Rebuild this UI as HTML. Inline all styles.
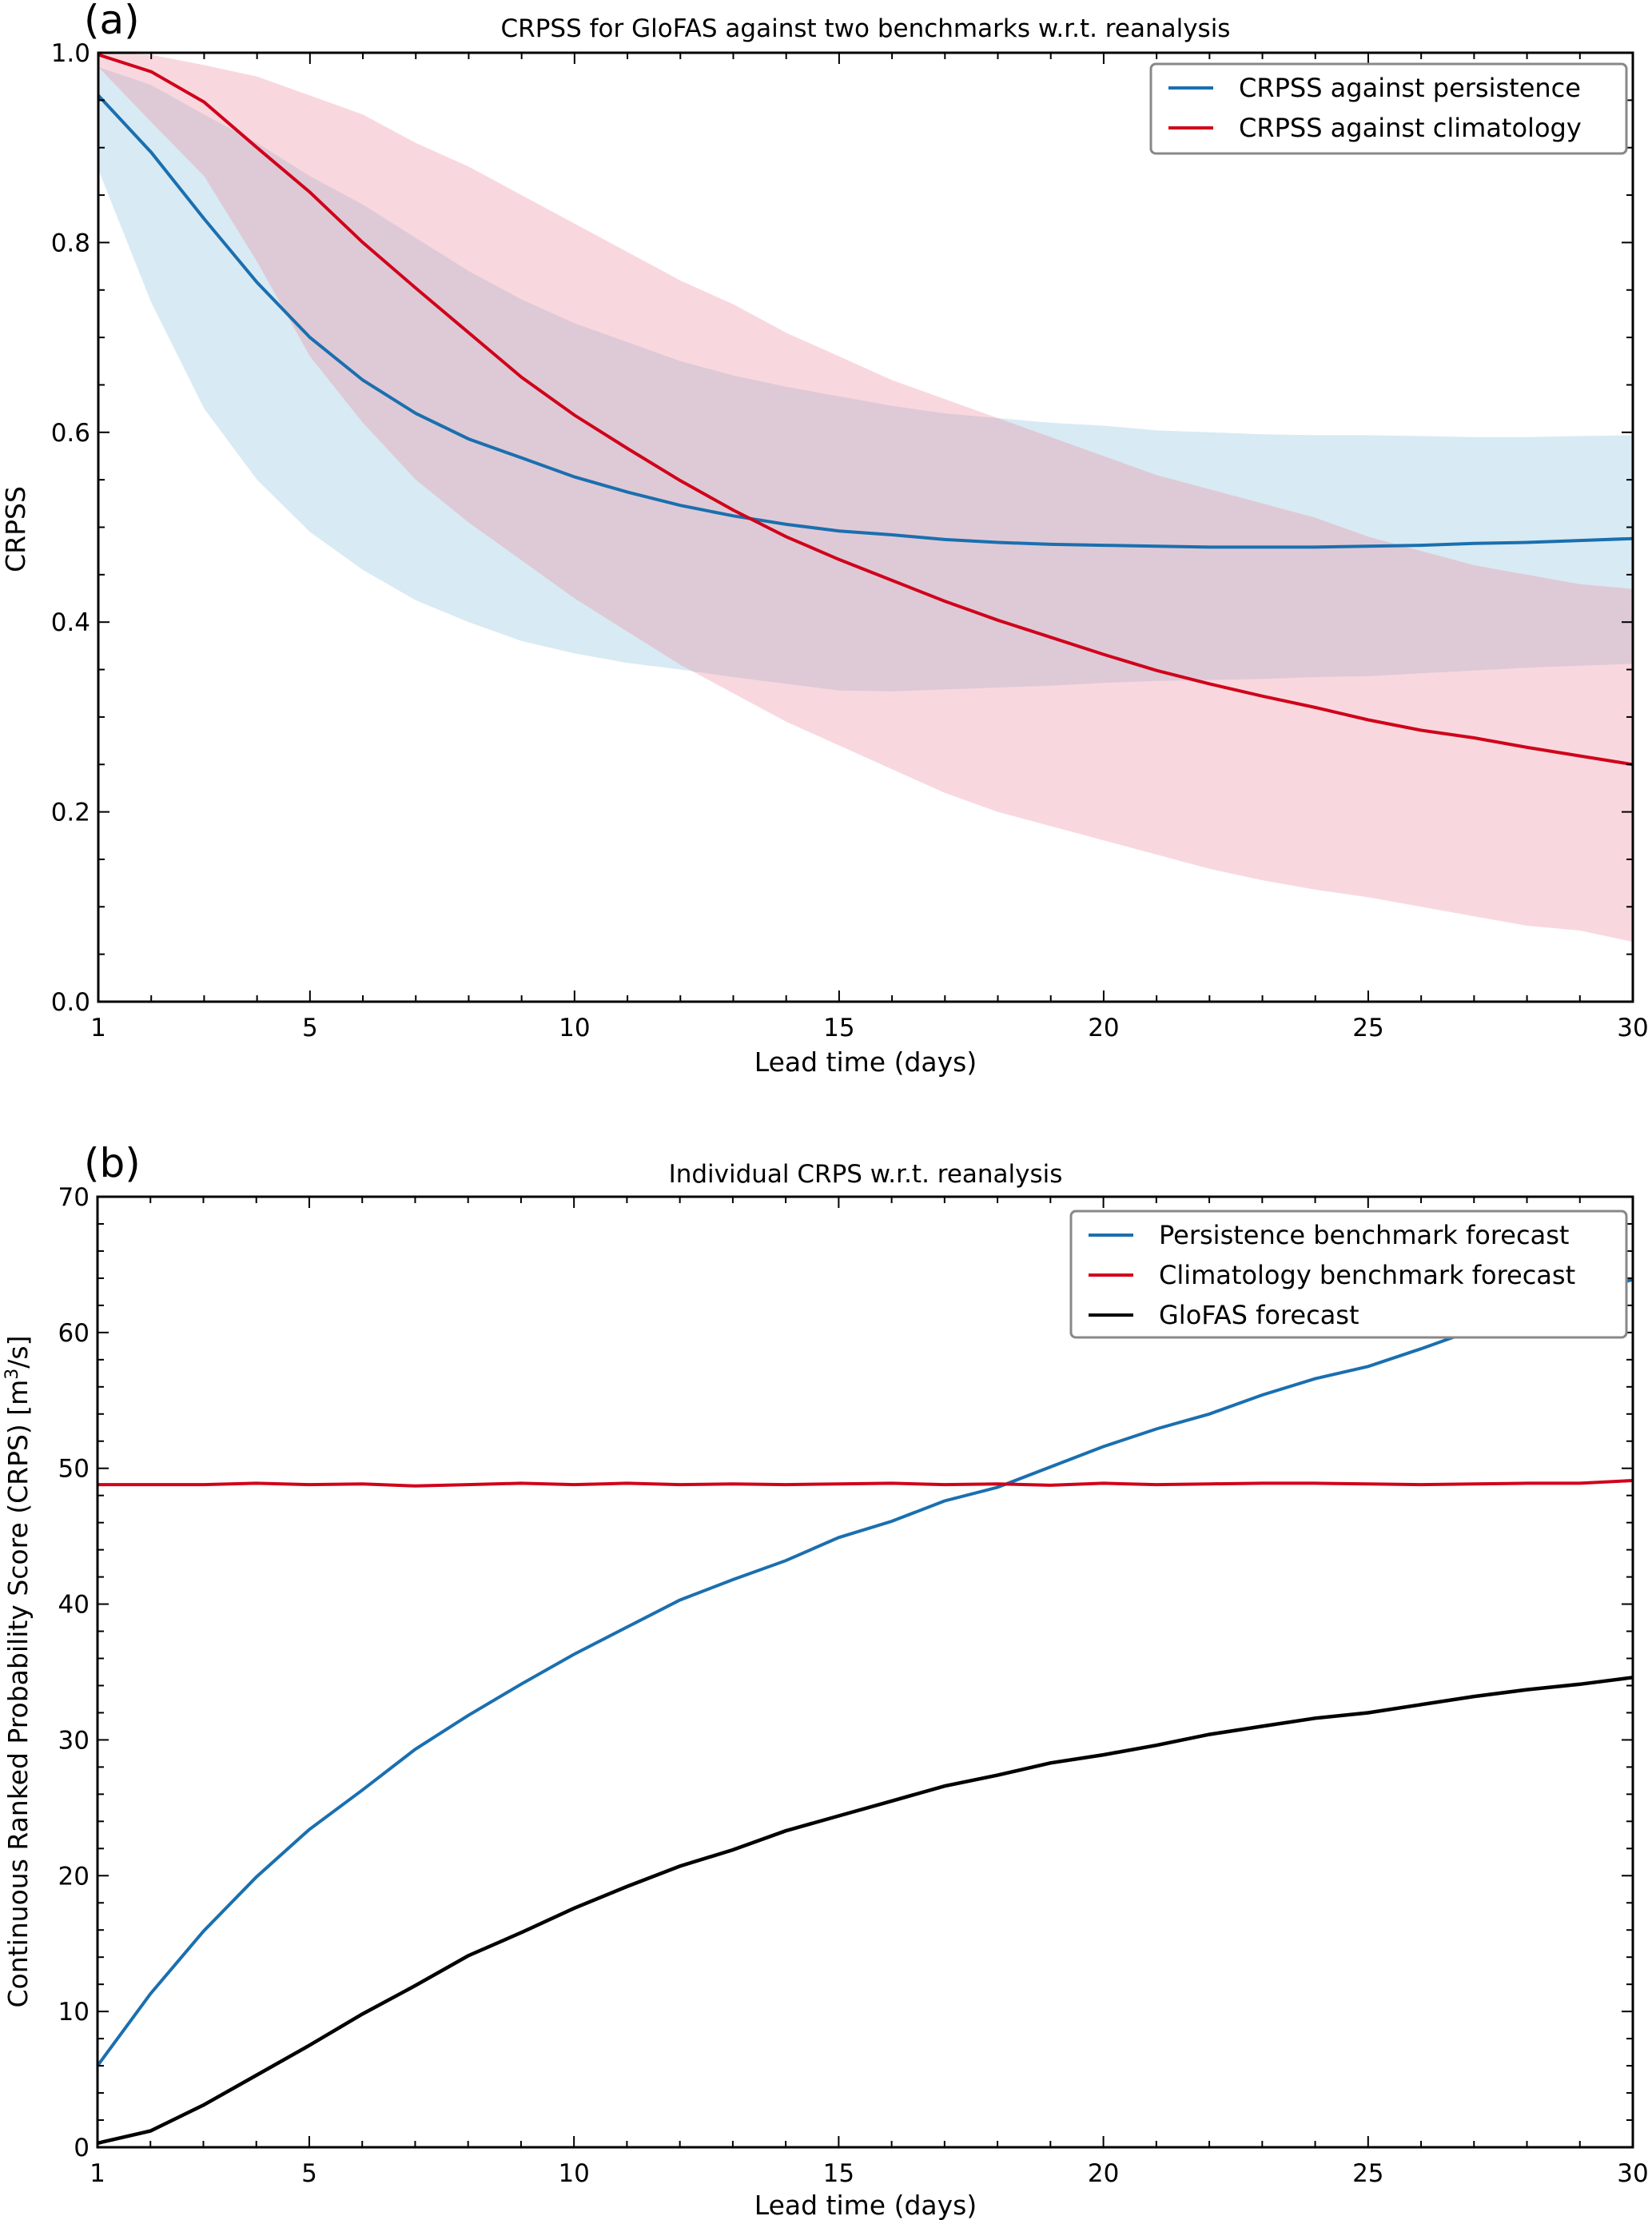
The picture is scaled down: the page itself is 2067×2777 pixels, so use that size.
<!DOCTYPE html>
<html><head><meta charset="utf-8"><style>
html,body{margin:0;padding:0;background:#fff}
svg{display:block;font-family:"DejaVu Sans","Liberation Sans",sans-serif}
</style></head><body>
<svg id="fig" width="2067" height="2777" viewBox="0 0 2067 2777" xmlns="http://www.w3.org/2000/svg"></svg>
<script>
const days=[1,2,3,4,5,6,7,8,9,10,11,12,13,14,15,16,17,18,19,20,21,22,23,24,25,26,27,28,29,30];
const crpssPersist=[0.955,0.895,0.825,0.758,0.700,0.655,0.620,0.593,0.573,0.553,0.537,0.523,0.512,0.503,0.496,0.492,0.487,0.484,0.482,0.481,0.480,0.479,0.479,0.479,0.480,0.481,0.483,0.484,0.486,0.488];
const crpssClim=[0.998,0.98,0.948,0.90,0.853,0.80,0.752,0.705,0.658,0.618,0.583,0.549,0.518,0.490,0.466,0.444,0.422,0.402,0.384,0.366,0.349,0.335,0.322,0.310,0.297,0.286,0.278,0.268,0.259,0.250];
const persistUpper=[0.985,0.966,0.935,0.905,0.87,0.84,0.805,0.77,0.74,0.715,0.695,0.675,0.66,0.648,0.638,0.628,0.62,0.615,0.61,0.607,0.602,0.6,0.598,0.597,0.597,0.596,0.595,0.595,0.596,0.597];
const persistLower=[0.877,0.737,0.625,0.55,0.495,0.455,0.423,0.4,0.38,0.367,0.357,0.35,0.342,0.335,0.328,0.327,0.329,0.331,0.333,0.336,0.338,0.339,0.34,0.342,0.343,0.346,0.349,0.352,0.354,0.356];
const climUpper=[1.0,0.998,0.987,0.975,0.955,0.935,0.905,0.88,0.85,0.82,0.79,0.76,0.735,0.705,0.68,0.655,0.635,0.615,0.595,0.575,0.555,0.54,0.525,0.51,0.49,0.475,0.46,0.45,0.44,0.435];
const climLower=[0.985,0.927,0.87,0.78,0.68,0.61,0.55,0.505,0.465,0.425,0.39,0.355,0.325,0.295,0.27,0.245,0.22,0.2,0.185,0.17,0.155,0.14,0.128,0.118,0.11,0.1,0.09,0.08,0.075,0.063];
const crpsPersist=[6.0,11.3,15.9,19.9,23.4,26.3,29.3,31.8,34.1,36.3,38.3,40.3,41.8,43.2,44.9,46.1,47.6,48.6,50.1,51.6,52.9,54.0,55.4,56.6,57.5,58.8,60.2,61.5,62.8,63.9];
const crpsClim=[48.8,48.8,48.8,48.9,48.8,48.85,48.7,48.8,48.9,48.8,48.9,48.8,48.85,48.8,48.85,48.9,48.8,48.85,48.75,48.9,48.8,48.85,48.9,48.9,48.85,48.8,48.85,48.9,48.9,49.1];
const crpsGlofas=[0.3,1.2,3.1,5.3,7.5,9.8,11.9,14.1,15.8,17.6,19.2,20.7,21.9,23.3,24.4,25.5,26.6,27.4,28.3,28.9,29.6,30.4,31.0,31.6,32.0,32.6,33.2,33.7,34.1,34.6];
const xTicks=[1,5,10,15,20,25,30];
const yTicksA=[0.0,0.2,0.4,0.6,0.8,1.0];
const yTicksB=[0,10,20,30,40,50,60,70];

const NS="http://www.w3.org/2000/svg";
const svg=document.getElementById('fig');
function el(tag,attrs,parent,text){const e=document.createElementNS(NS,tag);for(const k in attrs)e.setAttribute(k,attrs[k]);if(text!==undefined)e.textContent=text;(parent||svg).appendChild(e);return e;}
const BLUE="#1a6faf",RED="#d0021b";

function makeAxes(box,ymin,ymax,yTicks,yMinorStep,yFmt,name){
  const g=el('g',{});
  
  
  const X=d=>box.l+(d-1)/29*(box.r-box.l);
  const Y=v=>box.b-(v-ymin)/(ymax-ymin)*(box.b-box.t);
  return {g,X,Y,box,finish(){
    const f=el('rect',{x:box.l,y:box.t,width:box.r-box.l,height:box.b-box.t,fill:'none',stroke:'#000','stroke-width':3},g);
    
    for(let d=1;d<=30;d++){const maj=xTicks.includes(d);const L=maj?14:8;
      el('line',{x1:X(d),x2:X(d),y1:box.b,y2:box.b-L,stroke:'#000','stroke-width':2},g);
      el('line',{x1:X(d),x2:X(d),y1:box.t,y2:box.t+L,stroke:'#000','stroke-width':2},g);}
    xTicks.forEach(d=>{const t=el('text',{x:X(d),y:box.b+43,'font-size':31,'text-anchor':'middle'},g,String(d));
      });
    for(let v=ymin;v<=ymax+1e-9;v+=yMinorStep){const maj=yTicks.some(t=>Math.abs(t-v)<1e-6);const L=maj?14:8;
      el('line',{x1:box.l,x2:box.l+L,y1:Y(v),y2:Y(v),stroke:'#000','stroke-width':2},g);
      el('line',{x1:box.r,x2:box.r-L,y1:Y(v),y2:Y(v),stroke:'#000','stroke-width':2},g);}
    yTicks.forEach(v=>{const t=el('text',{x:box.l-10,y:Y(v)+11,'font-size':31,'text-anchor':'end'},g,yFmt(v));
      });
  }};
}
function pathOf(A,ys){return ys.map((v,i)=>(i?'L':'M')+A.X(days[i]).toFixed(1)+','+A.Y(v).toFixed(1)).join('');}
function bandOf(A,up,lo){let d=pathOf(A,up);for(let i=lo.length-1;i>=0;i--)d+='L'+A.X(days[i]).toFixed(1)+','+A.Y(lo[i]).toFixed(1);return d+'Z';}

// Panel (a)
const A=makeAxes({l:123,r:2043,t:66,b:1253},0,1,yTicksA,0.05,v=>v.toFixed(1),'panel-a');
let p=el('path',{d:bandOf(A,persistUpper,persistLower),fill:'#9ecae1','fill-opacity':0.4},A.g);

p=el('path',{d:bandOf(A,climUpper,climLower),fill:'#eb8a9c','fill-opacity':0.33},A.g);

p=el('path',{d:pathOf(A,crpssPersist),fill:'none',stroke:BLUE,'stroke-width':4},A.g);

p=el('path',{d:pathOf(A,crpssClim),fill:'none',stroke:RED,'stroke-width':4},A.g);

A.finish();

// Panel (b)
const B=makeAxes({l:122,r:2043,t:1497,b:2686},0,70,yTicksB,2,v=>String(v),'panel-b');
p=el('path',{d:pathOf(B,crpsPersist),fill:'none',stroke:BLUE,'stroke-width':4},B.g);

p=el('path',{d:pathOf(B,crpsClim),fill:'none',stroke:RED,'stroke-width':4},B.g);

p=el('path',{d:pathOf(B,crpsGlofas),fill:'none',stroke:'#000','stroke-width':4.5},B.g);

B.finish();

function legend(x,y,w,h,items,name){
  const g=el('g',{});
  
  
  el('rect',{x,y,width:w,height:h,rx:6,fill:'#fff',stroke:'#888','stroke-width':3},g);
  items.forEach((it,i)=>{const cy=y+30+i*50;
    el('line',{x1:x+22,x2:x+78,y1:cy,y2:cy,stroke:it[1],'stroke-width':4},g);
    const t=el('text',{x:x+110,y:cy+11,'font-size':32},g,it[0]);
    });
}
legend(1440,80,595,112,[['CRPSS against persistence',BLUE],['CRPSS against climatology',RED]],'legend-a');
legend(1340,1515,695,158,[['Persistence benchmark forecast',BLUE],['Climatology benchmark forecast',RED],['GloFAS forecast','#000']],'legend-b');

function txt(attrs,s,name){const t=el('text',attrs,svg,s);return t;}
txt({x:1083,y:46,'font-size':31,'text-anchor':'middle'},'CRPSS for GloFAS against two benchmarks w.r.t. reanalysis','title-a');
txt({x:1083,y:1479,'font-size':31,'text-anchor':'middle'},'Individual CRPS w.r.t. reanalysis','title-b');
txt({x:105,y:42,'font-size':50},'(a)','panel-a-label');
txt({x:105,y:1472,'font-size':50},'(b)','panel-b-label');
txt({x:1083,y:1340,'font-size':33,'text-anchor':'middle'},'Lead time (days)','x-axis-title-a');
txt({x:1083,y:2770,'font-size':33,'text-anchor':'middle'},'Lead time (days)','x-axis-title-b');
txt({x:0,y:0,'font-size':33,'text-anchor':'middle',transform:'translate(31,662) rotate(-90)'},'CRPSS','y-axis-title-a');
const yl=txt({x:0,y:0,'font-size':33,'text-anchor':'middle',transform:'translate(34,2091) rotate(-90)'},'Continuous Ranked Probability Score (CRPS) [m','y-axis-title-b');
el('tspan',{dy:-12,'font-size':22},yl,'3');
el('tspan',{dy:12},yl,'/s]');
</script>
</body></html>
